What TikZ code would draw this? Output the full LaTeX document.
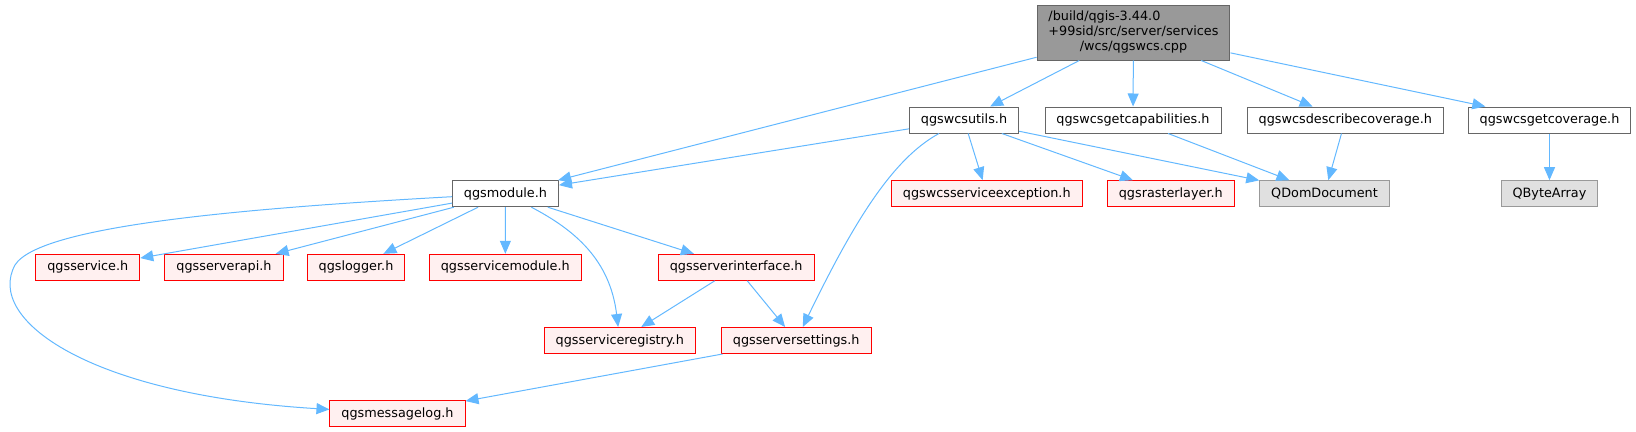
\documentclass[tikz,border=0pt]{standalone}
\usepackage{fontspec}
\setmainfont{DejaVu Sans}
\usetikzlibrary{arrows.meta}

\definecolor{depblue}{RGB}{99,184,255}
\definecolor{boxgray}{RGB}{102,102,102}
\definecolor{rootfill}{RGB}{153,153,153}
\definecolor{extfill}{RGB}{224,224,224}
\definecolor{redfill}{RGB}{255,240,240}

\tikzset{every picture/.style={line width=0.75pt}}
\tikzset{
	hbase/.style={rectangle, inner xsep=8.6pt, inner ysep=0pt, minimum height=19.5pt,
		font=\fontsize{9.6}{11.25}\selectfont, text=black},
	hfile/.style={hbase, draw=boxgray, fill=white},
	hred/.style={hbase, draw=red, fill=redfill},
	hext/.style={hbase, draw=rootfill, fill=extfill},
	hroot/.style={hbase, draw=boxgray, fill=rootfill, minimum height=41.25pt},
	dep/.style={draw=depblue, -{Triangle[length=9.75pt,width=8.25pt]}}}

\begin{document}
\begin{tikzpicture}[x=0.75pt,y=0.75pt,yscale=-1,xscale=1]
	\useasboundingbox (0,0) rectangle (1636,432);

	% Files
	\node[hroot] (wcs) at (1133.5,32.5) {\begin{tabular}{@{}l@{}}/build/qgis-3.44.0\\+99sid/src/server/services\\\multicolumn{1}{@{}c@{}}{/wcs/qgswcs.cpp}\end{tabular}};
	\node[hfile] (utils) at (964,120) {qgswcsutils.h};
	\node[hfile] (caps) at (1133,120) {qgswcsgetcapabilities.h};
	\node[hfile] (desc) at (1345.3,120) {qgswcsdescribecoverage.h};
	\node[hfile] (getcov) at (1549.5,120) {qgswcsgetcoverage.h};
	\node[hfile] (module) at (505.5,193.7) {qgsmodule.h};
	\node[hred] (except) at (986.8,193.7) {qgswcsserviceexception.h};
	\node[hred] (raster) at (1170.8,193.7) {qgsrasterlayer.h};
	\node[hext] (qdom) at (1324.5,193.7) {QDomDocument};
	\node[hext] (qbyte) at (1549.5,193.7) {QByteArray};
	\node[hred] (service) at (87.8,267.3) {qgsservice.h};
	\node[hred] (api) at (224,267.3) {qgsserverapi.h};
	\node[hred] (logger) at (356,267.3) {qgslogger.h};
	\node[hred] (svcmod) at (505.3,267.3) {qgsservicemodule.h};
	\node[hred] (iface) at (736.2,267.3) {qgsserverinterface.h};
	\node[hred] (registry) at (619.8,340.5) {qgsserviceregistry.h};
	\node[hred] (settings) at (796.2,340.5) {qgsserversettings.h};
	\node[hred] (msglog) at (397.5,413.5) {qgsmessagelog.h};

	% Includes
	\draw[dep] (wcs) -- (module);
	\draw[dep] (wcs) -- (utils);
	\draw[dep] (wcs) -- (caps);
	\draw[dep] (wcs) -- (desc);
	\draw[dep] (wcs) -- (getcov);
	\draw[dep] (utils) -- (module);
	\draw[dep] (utils) -- (except);
	\draw[dep] (utils) -- (raster);
	\draw[dep] (utils) -- (qdom);
	\draw[dep] (utils) .. controls (890,160) and (850,230) .. (settings);
	\draw[dep] (caps) -- (qdom);
	\draw[dep] (desc) -- (qdom);
	\draw[dep] (getcov) -- (qbyte);
	\draw[dep] (module) .. controls (250,208) and (40,225) .. (15,265) .. controls (-15,320) and (90,395) .. (msglog);
	\draw[dep] (module) -- (service);
	\draw[dep] (module) -- (api);
	\draw[dep] (module) -- (logger);
	\draw[dep] (module) -- (svcmod);
	\draw[dep] (module) .. controls (575,230) and (610,260) .. (registry);
	\draw[dep] (module) -- (iface);
	\draw[dep] (iface) -- (registry);
	\draw[dep] (iface) -- (settings);
	\draw[dep] (settings) -- (msglog);

\end{tikzpicture}
\end{document}
